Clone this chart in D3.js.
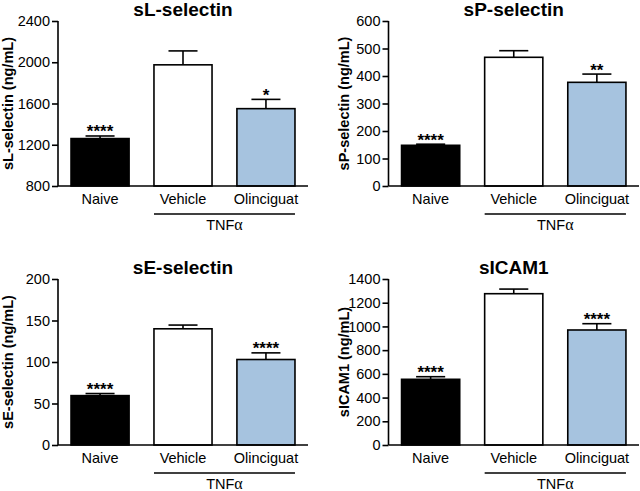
<!DOCTYPE html>
<html>
<head>
<meta charset="utf-8">
<script src="https://cdn.jsdelivr.net/npm/d3@7"></script>
<style>
  html, body { margin: 0; padding: 0; background: #fff; }
  svg { display: block; }
  text { font-family: "Liberation Sans", Arial, Helvetica, sans-serif; fill: #000; }
</style>
</head>
<body>
<svg id="chart" width="640" height="491"></svg>
<script>
// ---------- data ----------
const categories = ["Naive", "Vehicle", "Olinciguat"];
const groupLabel = "TNF";
const groupedCategories = ["Vehicle", "Olinciguat"];

const titles = ["sL-selectin", "sP-selectin", "sE-selectin", "sICAM1"];
const yLabels = ["sL-selectin (ng/mL)", "sP-selectin (ng/mL)", "sE-selectin (ng/mL)", "sICAM1 (ng/mL)"];

const sLMeans = [1260, 1975, 1550];
const sLErrors = [25, 135, 90];
const sLStars = ["****", "", "*"];
const sLTicks = [800, 1200, 1600, 2000, 2400];

const sPMeans = [148, 468, 377];
const sPErrors = [4, 24, 30];
const sPStars = ["****", "", "**"];
const sPTicks = [0, 100, 200, 300, 400, 500, 600];

const sEMeans = [59.5, 140, 103];
const sEErrors = [2.5, 4.5, 8];
const sEStars = ["****", "", "****"];
const sETicks = [0, 50, 100, 150, 200];

const sICAMMeans = [554, 1276, 970];
const sICAMErrors = [22, 39, 53];
const sICAMStars = ["****", "", "****"];
const sICAMTicks = [0, 200, 400, 600, 800, 1000, 1200, 1400];

// ---------- layout (styles/positions) ----------
const fills = { "Naive": "#000000", "Vehicle": "#ffffff", "Olinciguat": "#a6c3df" };

const panels = [
  { title: titles[0], yLabel: yLabels[0], means: sLMeans, errors: sLErrors, stars: sLStars, ticks: sLTicks,
    x0: 58, x1: 308, yTop: 21, yBot: 186, yLabelX: 13, titleY: 16 },
  { title: titles[1], yLabel: yLabels[1], means: sPMeans, errors: sPErrors, stars: sPStars, ticks: sPTicks,
    x0: 388.5, x1: 639, yTop: 21, yBot: 186, yLabelX: 349, titleY: 16 },
  { title: titles[2], yLabel: yLabels[2], means: sEMeans, errors: sEErrors, stars: sEStars, ticks: sETicks,
    x0: 58, x1: 308, yTop: 279, yBot: 445, yLabelX: 13, titleY: 274 },
  { title: titles[3], yLabel: yLabels[3], means: sICAMMeans, errors: sICAMErrors, stars: sICAMStars, ticks: sICAMTicks,
    x0: 388.5, x1: 639, yTop: 279, yBot: 445, yLabelX: 349, titleY: 274 }
];

const svg = d3.select("#chart");
const lw = 1.6;

panels.forEach(p => {
  const g = svg.append("g");
  const x = d3.scaleBand().domain(categories).range([p.x0, p.x1]).paddingInner(0.3).paddingOuter(0.157);
  const y = d3.scaleLinear().domain([p.ticks[0], p.ticks[p.ticks.length - 1]]).range([p.yBot, p.yTop]);

  const data = categories.map((c, i) => ({ c, m: p.means[i], e: p.errors[i], s: p.stars[i] }));
  // error bars (upper only), drawn before bars
  const eb = g.selectAll(".err").data(data).enter().append("g");
  eb.append("line")
    .attr("x1", d => x(d.c) + x.bandwidth() / 2).attr("x2", d => x(d.c) + x.bandwidth() / 2)
    .attr("y1", d => y(d.m)).attr("y2", d => y(d.m + d.e))
    .attr("stroke", "#000").attr("stroke-width", lw);
  eb.append("line")
    .attr("x1", d => x(d.c) + x.bandwidth() / 4).attr("x2", d => x(d.c) + x.bandwidth() * 3 / 4)
    .attr("y1", d => y(d.m + d.e)).attr("y2", d => y(d.m + d.e))
    .attr("stroke", "#000").attr("stroke-width", lw);

  g.selectAll(".bar").data(data).enter().append("rect")
    .attr("x", d => x(d.c)).attr("width", x.bandwidth())
    .attr("y", d => y(d.m)).attr("height", d => y(p.ticks[0]) - y(d.m))
    .attr("fill", d => fills[d.c]).attr("stroke", "#000").attr("stroke-width", lw);

  // significance stars
  g.selectAll(".star").data(data).enter().append("text")
    .attr("x", d => x(d.c) + x.bandwidth() / 2)
    .attr("y", d => y(d.m + d.e) + 1.5)
    .attr("text-anchor", "middle").attr("font-size", "17px").attr("font-weight", "bold")
    .text(d => d.s);

  // y axis
  const yAxis = d3.axisLeft(y).tickValues(p.ticks).tickSize(6).tickPadding(2).tickFormat(d3.format("d"));
  const ya = g.append("g").attr("transform", `translate(${p.x0},0)`).call(yAxis);
  ya.select(".domain").attr("stroke-width", lw).attr("d", `M0,${p.yTop}V${p.yBot}`);
  ya.selectAll(".tick line").attr("stroke-width", lw);
  ya.selectAll(".tick text").attr("font-size", "14.5px").attr("font-family", "Liberation Sans, Arial, sans-serif").attr("fill", "#000");

  // x axis
  const xAxis = d3.axisBottom(x).tickSize(0).tickPadding(0);
  const xa = g.append("g").attr("transform", `translate(0,${p.yBot})`).call(xAxis);
  xa.select(".domain").attr("stroke-width", lw).attr("d", `M${p.x0},0H${p.x1}`);
  xa.selectAll(".tick text").attr("font-size", "14.5px").attr("font-family", "Liberation Sans, Arial, sans-serif")
    .attr("fill", "#000").attr("dy", null).attr("y", 18);

  // group line + label
  const gx0 = x(groupedCategories[0]);
  const gx1 = x(groupedCategories[groupedCategories.length - 1]) + x.bandwidth();
  g.append("line").attr("x1", gx0).attr("x2", gx1)
    .attr("y1", p.yBot + 28).attr("y2", p.yBot + 28)
    .attr("stroke", "#000").attr("stroke-width", lw);
  const t = g.append("text").attr("x", (gx0 + gx1) / 2).attr("y", p.yBot + 44)
    .attr("text-anchor", "middle").attr("font-size", "14.5px");
  t.append("tspan").text(groupLabel);
  t.append("tspan").attr("font-family", "Liberation Serif, Times New Roman, serif").attr("font-size", "16px").text("α");

  // title
  g.append("text").attr("x", (p.x0 + p.x1) / 2).attr("y", p.titleY)
    .attr("text-anchor", "middle").attr("font-size", "19px").attr("font-weight", "bold")
    .text(p.title);

  // y label
  g.append("text")
    .attr("transform", `translate(${p.yLabelX},${(p.yTop + p.yBot) / 2}) rotate(-90)`)
    .attr("text-anchor", "middle").attr("font-size", "14.5px").attr("font-weight", "bold")
    .text(p.yLabel);
});
</script>
</body>
</html>
